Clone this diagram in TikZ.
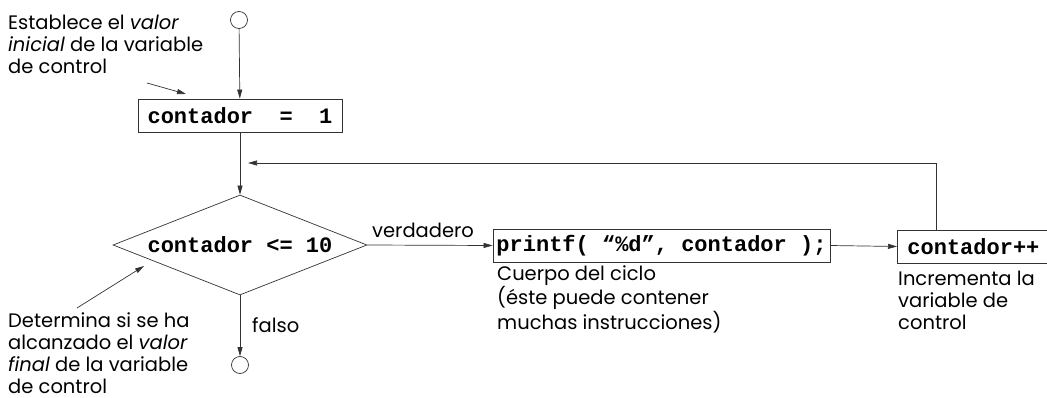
\documentclass[tikz,border=0pt]{standalone}
\usepackage{fontspec}
\setmainfont{Poppins}
\newfontfamily\codefont{Liberation Mono}
\usetikzlibrary{arrows.meta,shapes.geometric}
\begin{document}
\begin{tikzpicture}[x=1pt,y=-1pt,
  line/.style={draw=black!80,line width=0.7pt},
  arr/.style={line,-{Triangle[length=9pt,width=5pt]}},
  codebox/.style={draw=black!80,line width=0.8pt,inner sep=0pt,font=\codefont\bfseries\fontsize{22}{22}\selectfont},
  term/.style={circle,draw=black!80,line width=0.7pt,minimum size=17pt,inner sep=0pt},
  note/.style={align=left,anchor=base west,inner sep=0pt,font=\fontsize{19.5}{22}\selectfont},
  lbl/.style={inner sep=0pt,font=\fontsize{19.5}{22}\selectfont}]
\useasboundingbox (0,0) rectangle (1047,398);
\fill[white] (0,0) rectangle (1047,398);
% nodes
\node[term] (start) at (239,20) {};
\node[codebox,minimum width=204pt,minimum height=33pt] (init) at (240,115.5) {contador\ \ =\ \ 1};
\node[draw=black!80,line width=0.7pt,diamond,aspect=2.54,minimum width=254pt,minimum height=100pt,inner sep=0pt,font=\codefont\bfseries\fontsize{22}{22}\selectfont] (cond) at (240,245) {contador <= 10};
\node[codebox,minimum width=337pt,minimum height=33pt] (body) at (661.5,245.5) {printf( “\%d”, contador );};
\node[codebox,minimum height=33pt,inner xsep=0pt,anchor=west] (inc) at (897,246.5) {\hspace*{10pt}contador++\hspace*{20pt}};
\node[term] (end) at (240,365) {};
\coordinate (up) at (936,163);
\coordinate (join) at (240,163);
% connectors
\draw[arr] (start) -- (init);
\draw[arr] (init) -- (cond.north);
\draw[arr] (cond.east) -- (body.west);
\draw[arr] (body.east) -- (inc.west);
\draw[arr] (cond.south) -- (end);
\draw[arr] (inc.north -| up) -- (up) -- ([xshift=8pt]join);
% labels
\node[lbl,anchor=base west] (vlbl) at (372,237) {verdadero};
\node[lbl,anchor=base west] (flbl) at (252,332) {falso};
\node[note] (n1) at (8,74) {Establece el \textit{valor}\\\textit{inicial} de la variable\\de control};
\coordinate (n1a) at (147,83);
\draw[arr] (n1a) -- (186,94);
\node[note] (n2) at (8,393) {Determina si se ha\\alcanzado el \textit{valor}\\\textit{final} de la variable\\de control};
\coordinate (n2a) at (77,308);
\draw[arr] (n2a) -- (144,266);
\node[note] (n3) at (497,329) {Cuerpo del ciclo\\(éste puede contener\\muchas instrucciones)};
\node[note] (n4) at (898,329) {Incrementa la\\variable de\\control};
\end{tikzpicture}
\end{document}
